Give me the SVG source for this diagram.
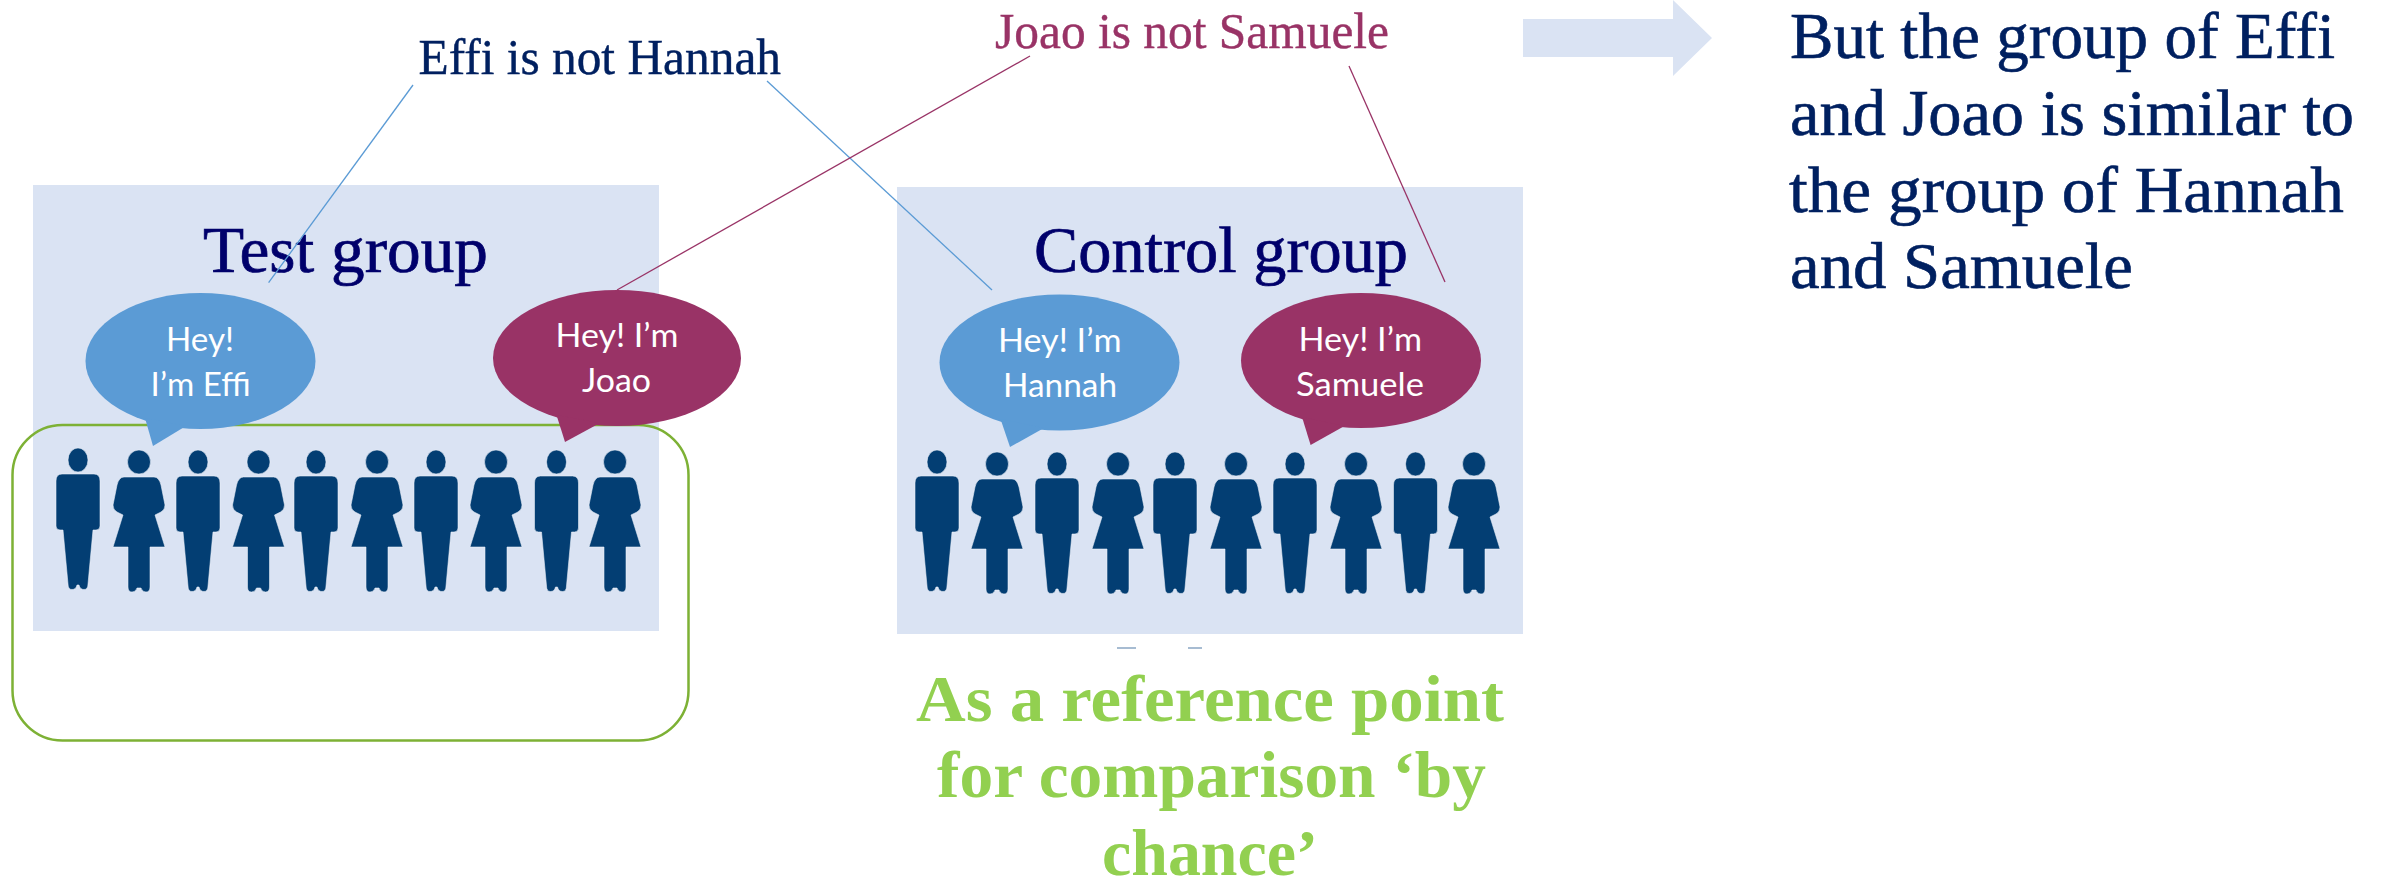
<svg xmlns="http://www.w3.org/2000/svg" width="2382" height="879" viewBox="0 0 2382 879">
<style>
.panel{fill:#dae3f3}
.serif{font-family:"Liberation Serif","Times New Roman",serif}
.sans{font-family:Lato,"Noto Sans",sans-serif;font-size:33px;fill:#fff}
.title{font-size:65px;fill:#00006b;stroke:#00006b;stroke-width:.7}
.note{font-size:50px;stroke-width:.4}
.navy{fill:#002060;stroke:#002060}
.plum{fill:#993366;stroke:#993366}
.green{font-size:65px;font-weight:bold;fill:#92d050}
.big{font-size:66px;fill:#002060;stroke:#002060;stroke-width:.6}
.blue{fill:#5b9bd5}
.mag{fill:#993366}
.fig{fill:#033e73;stroke:#eef3fa;stroke-width:.8;stroke-opacity:.7}
.cb{stroke:#5b9bd5;stroke-width:1.3;fill:none}
.cm{stroke:#993366;stroke-width:1.3;fill:none}
</style>
<defs>
<g id="man" class="fig"><ellipse cx="0" cy="12" rx="10" ry="12"/><path d="M-16 26H16Q22 26 22 33V78Q22 82 18 82H15L10 136Q10 141.5 6 141.5Q2 141.5 1 137H-1Q-2 141.500-6 141.500Q-10 141.500-10 136L-15 82H-18Q-22 82-22 78V33Q-22 26-16 26Z"/></g>
<g id="woman" class="fig"><ellipse cx="0" cy="12" rx="11.500" ry="12"/><path d="M-15 27H15Q20 27 22 35L26 55Q26 60 22 62L16 65L26 97H11V137Q11 142 7 142Q3 142 2 138H-2Q-3 142-7 142Q-11 142-11 137V97H-26L-16 65L-22 62Q-26 60-26 55L-22 35Q-20 27-15 27Z"/></g>
</defs>

<g id="test-group">
<rect class="panel" x="33" y="185" width="626" height="446"/>
<text class="serif title" x="203" y="272" textLength="285" lengthAdjust="spacingAndGlyphs">Test group</text>
<use href="#man" x="78" y="448"/><use href="#woman" x="139" y="450"/><use href="#man" x="198" y="450"/><use href="#woman" x="258.500" y="450"/><use href="#man" x="316" y="450"/><use href="#woman" x="377" y="450"/><use href="#man" x="436" y="450"/><use href="#woman" x="496" y="450"/><use href="#man" x="556.500" y="450"/><use href="#woman" x="615" y="450"/>
</g>

<g id="control-group">
<rect class="panel" x="897" y="187" width="626" height="447"/>
<text class="serif title" x="1034" y="272" textLength="374" lengthAdjust="spacingAndGlyphs">Control group</text>
<use href="#man" x="937" y="450"/><use href="#woman" x="997" y="452"/><use href="#man" x="1057" y="452"/><use href="#woman" x="1118" y="452"/><use href="#man" x="1175" y="452"/><use href="#woman" x="1236" y="452"/><use href="#man" x="1295" y="452"/><use href="#woman" x="1356" y="452"/><use href="#man" x="1415.500" y="452"/><use href="#woman" x="1474" y="452"/>
</g>

<g id="test-highlight"><rect x="12.500" y="425" width="676" height="315.500" rx="50" ry="50" fill="none" stroke="#7db135" stroke-width="2.500"/></g>

<g id="connectors">
<line class="cb" x1="413" y1="85" x2="268.600" y2="282.700"/>
<line class="cb" x1="767" y1="81" x2="992" y2="290"/>
<line class="cm" x1="1030" y1="56" x2="617" y2="290"/>
<line class="cm" x1="1349" y1="66" x2="1445" y2="282"/>
</g>

<g id="bubble-effi">
<ellipse class="blue" cx="200.500" cy="361" rx="115" ry="68"/><polygon class="blue" points="145,418 153,446 186,426"/>
<text class="sans" x="166" y="351" textLength="68" lengthAdjust="spacingAndGlyphs">Hey!</text>
<text class="sans" x="150.600" y="396" textLength="100" lengthAdjust="spacingAndGlyphs">I’m Effi</text>
</g>
<g id="bubble-joao">
<ellipse class="mag" cx="617" cy="358" rx="124" ry="68"/><polygon class="mag" points="556.500,415 565,442 600,423"/>
<text class="sans" x="555.500" y="347" textLength="123" lengthAdjust="spacingAndGlyphs">Hey! I’m</text>
<text class="sans" x="582" y="392" textLength="69" lengthAdjust="spacingAndGlyphs">Joao</text>
</g>
<g id="bubble-hannah">
<ellipse class="blue" cx="1059.500" cy="362.500" rx="120" ry="68"/><polygon class="blue" points="1000.500,419 1010,447 1044,428"/>
<text class="sans" x="998" y="352" textLength="123.500" lengthAdjust="spacingAndGlyphs">Hey! I’m</text>
<text class="sans" x="1003" y="397" textLength="114" lengthAdjust="spacingAndGlyphs">Hannah</text>
</g>
<g id="bubble-samuele">
<ellipse class="mag" cx="1361" cy="360.500" rx="120" ry="67.500"/><polygon class="mag" points="1302,417 1310.600,445 1344.500,426"/>
<text class="sans" x="1298.500" y="351" textLength="123.500" lengthAdjust="spacingAndGlyphs">Hey! I’m</text>
<text class="sans" x="1296" y="396" textLength="128" lengthAdjust="spacingAndGlyphs">Samuele</text>
</g>

<g id="label-effi-hannah"><text class="serif note navy" x="418.500" y="74" textLength="362.500" lengthAdjust="spacingAndGlyphs">Effi is not Hannah</text></g>
<g id="label-joao-samuele"><text class="serif note plum" x="995" y="48" textLength="394" lengthAdjust="spacingAndGlyphs">Joao is not Samuele</text></g>

<g id="arrow"><polygon class="panel" points="1523,19 1673,19 1673,0 1712,38 1673,76 1673,57 1523,57"/></g>

<g id="conclusion">
<text class="serif big" x="1790" y="58" textLength="545" lengthAdjust="spacingAndGlyphs">But the group of Effi</text>
<text class="serif big" x="1790" y="135" textLength="564" lengthAdjust="spacingAndGlyphs">and Joao is similar to</text>
<text class="serif big" x="1789" y="212" textLength="555" lengthAdjust="spacingAndGlyphs">the group of Hannah</text>
<text class="serif big" x="1790" y="288" textLength="343" lengthAdjust="spacingAndGlyphs">and Samuele</text>
</g>

<g id="reference-note">
<path d="M1117 648H1136M1188 648H1202" stroke="#8aa6c4" stroke-width="1.500" fill="none"/>
<text class="serif green" x="916" y="721" textLength="588" lengthAdjust="spacingAndGlyphs">As a reference point</text>
<text class="serif green" x="937" y="797" textLength="549" lengthAdjust="spacingAndGlyphs">for comparison ‘by</text>
<text class="serif green" x="1102" y="875" textLength="216" lengthAdjust="spacingAndGlyphs">chance’</text>
</g>
</svg>
